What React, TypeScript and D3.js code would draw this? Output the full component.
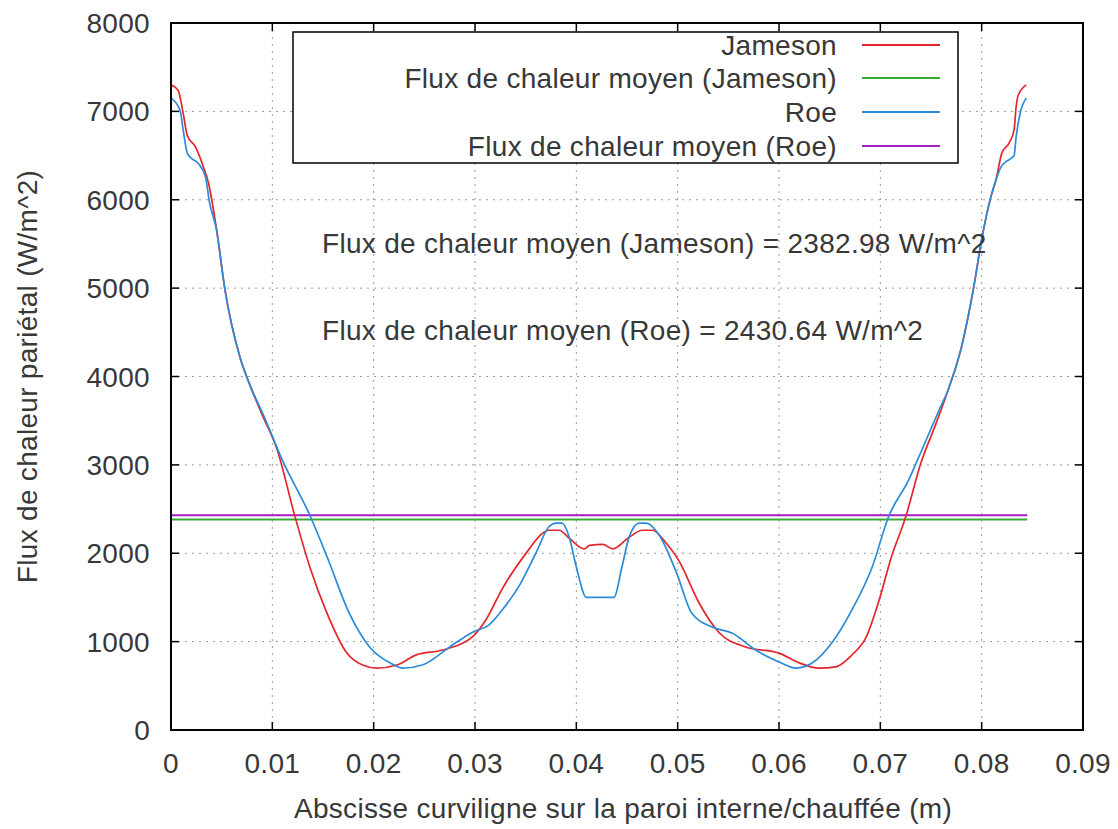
import { line, curveMonotoneX, scaleLinear } from 'd3'

const W = 1118
const H = 829
const M = { left: 171, right: 1083, top: 23, bottom: 730 }

const X_TICKS = [0, 0.01, 0.02, 0.03, 0.04, 0.05, 0.06, 0.07, 0.08, 0.09]
const Y_TICKS = [0, 1000, 2000, 3000, 4000, 5000, 6000, 7000, 8000]

const JAMESON_X = [
  0, 0.0007, 0.0012, 0.0016, 0.0024, 0.0032, 0.0037, 0.0045, 0.0053, 0.0068, 0.0078, 0.0091,
  0.0104, 0.0122, 0.0137, 0.0154, 0.0173, 0.0189, 0.0203, 0.0223, 0.0242, 0.0268, 0.0298,
  0.0311, 0.0327, 0.0351, 0.0367, 0.0373, 0.0383, 0.0393, 0.0408, 0.0413, 0.0426, 0.0436,
  0.0452, 0.0465, 0.0475, 0.0489, 0.0501, 0.0521, 0.0541, 0.0567, 0.06, 0.062, 0.0639,
  0.0656, 0.0672, 0.0686, 0.0698, 0.0711, 0.0725, 0.074, 0.0755, 0.0767, 0.078, 0.0792,
  0.08, 0.0809, 0.0814, 0.082, 0.0827, 0.0832, 0.0834, 0.0836, 0.0844,
]
const JAMESON_Y = [
  7300, 7240, 6980, 6730, 6600, 6370, 6190, 5660, 5000, 4220, 3900, 3540,
  3200, 2430, 1845, 1320, 880, 735, 700, 735, 850, 905, 1060,
  1250, 1600, 2010, 2230, 2260, 2260, 2170, 2050, 2090, 2100, 2050,
  2180, 2260, 2260, 2110, 1920, 1440, 1100, 940, 870, 760, 700,
  715, 850, 1050, 1440, 1960, 2410, 3020, 3470, 3850, 4330, 5000,
  5550, 6030, 6220, 6530, 6640, 6790, 7050, 7180, 7300,
]

const ROE_X = [
  0, 0.0009, 0.0012, 0.0016, 0.002, 0.0027, 0.0034, 0.0038, 0.0045, 0.0053, 0.0068, 0.0078,
  0.0091, 0.011, 0.0137, 0.0154, 0.0176, 0.0196, 0.0216, 0.0229, 0.0248, 0.0275, 0.0298,
  0.0314, 0.0327, 0.0344, 0.036, 0.0373, 0.038, 0.0386, 0.0393, 0.04, 0.041, 0.0437,
  0.0445, 0.0452, 0.0462, 0.0469, 0.0482, 0.0499, 0.0514, 0.0534, 0.0554, 0.0577, 0.06,
  0.0617, 0.0633, 0.0652, 0.0672, 0.0692, 0.0708, 0.0728, 0.0738, 0.0758, 0.0767, 0.078,
  0.0792, 0.08, 0.0809, 0.0814, 0.0819, 0.0824, 0.0832, 0.0834, 0.0838, 0.0844,
]
const ROE_Y = [
  7150, 7010, 6790, 6530, 6470, 6410, 6260, 5970, 5660, 5000, 4220, 3900,
  3570, 3050, 2430, 1960, 1320, 940, 760, 700, 735, 940, 1110,
  1190, 1360, 1640, 2000, 2300, 2340, 2340, 2180, 1845, 1500, 1500,
  1845, 2180, 2340, 2340, 2200, 1775, 1320, 1165, 1095, 905, 770,
  700, 760, 985, 1360, 1845, 2410, 2830, 3090, 3620, 3850, 4330,
  5000, 5550, 6030, 6220, 6370, 6430, 6500, 6710, 6980, 7150,
]

const MEAN_X = [0, 0.0845]
const MEAN_JAMESON = 2382.98
const MEAN_ROE = 2430.64

const SERIES = [
  { label: 'Jameson', color: '#e3262b' },
  { label: 'Flux de chaleur moyen (Jameson)', color: '#3aaa35' },
  { label: 'Roe', color: '#2a8bd8' },
  { label: 'Flux de chaleur moyen (Roe)', color: '#a020c0' },
]

const FONT = '"Liberation Sans", Arial, sans-serif'
const TXT = '#383838'
const FS = 28

export default function App() {
  const x = scaleLinear().domain([0, 0.09]).range([M.left, M.right])
  const y = scaleLinear().domain([0, 8000]).range([M.bottom, M.top])

  const gen = line<[number, number]>()
    .x((d) => x(d[0]))
    .y((d) => y(d[1]))
    .curve(curveMonotoneX)

  const jameson = gen(JAMESON_X.map((v, i) => [v, JAMESON_Y[i]])) ?? ''
  const roe = gen(ROE_X.map((v, i) => [v, ROE_Y[i]])) ?? ''
  const flat = line<[number, number]>()
    .x((d) => x(d[0]))
    .y((d) => y(d[1]))
  const meanJ = flat(MEAN_X.map((v) => [v, MEAN_JAMESON])) ?? ''
  const meanR = flat(MEAN_X.map((v) => [v, MEAN_ROE])) ?? ''

  const tick = 8
  const legendRows = [45, 78, 112, 146]

  return (
    <svg
      width={W}
      height={H}
      style={{ position: 'absolute', left: 0, top: 0, background: '#fff' }}
      fontFamily={FONT}
      letterSpacing={0.3}
    >
      <rect width={W} height={H} fill="#fff" />

      {/* grid */}
      {X_TICKS.slice(1, -1).map((t) => (
        <line key={'gx' + t} x1={x(t)} x2={x(t)} y1={M.top} y2={M.bottom}
          stroke="#999" strokeWidth={1} strokeDasharray="2 5" />
      ))}
      {Y_TICKS.slice(1, -1).map((t) => (
        <line key={'gy' + t} x1={M.left} x2={M.right} y1={y(t)} y2={y(t)}
          stroke="#999" strokeWidth={1} strokeDasharray="2 5" />
      ))}

      {/* ticks, mirrored */}
      {X_TICKS.map((t) => (
        <g key={'tx' + t} stroke="#000" strokeWidth={1.5}>
          <line x1={x(t)} x2={x(t)} y1={M.bottom} y2={M.bottom - tick} />
          <line x1={x(t)} x2={x(t)} y1={M.top} y2={M.top + tick} />
        </g>
      ))}
      {Y_TICKS.map((t) => (
        <g key={'ty' + t} stroke="#000" strokeWidth={1.5}>
          <line x1={M.left} x2={M.left + tick} y1={y(t)} y2={y(t)} />
          <line x1={M.right} x2={M.right - tick} y1={y(t)} y2={y(t)} />
        </g>
      ))}

      {/* tick labels */}
      {X_TICKS.map((t) => (
        <text key={'lx' + t} x={x(t)} y={773} textAnchor="middle" fontSize={FS} fill={TXT}>
          {t === 0 ? '0' : t.toFixed(2)}
        </text>
      ))}
      {Y_TICKS.map((t) => (
        <text key={'ly' + t} x={150} y={y(t) + 10} textAnchor="end" fontSize={FS} fill={TXT}>
          {t}
        </text>
      ))}

      {/* data */}
      <path d={meanJ} fill="none" stroke={SERIES[1].color} strokeWidth={2} />
      <path d={meanR} fill="none" stroke={SERIES[3].color} strokeWidth={2} />
      <path d={jameson} fill="none" stroke={SERIES[0].color} strokeWidth={1.7} />
      <path d={roe} fill="none" stroke={SERIES[2].color} strokeWidth={1.7} />

      {/* border */}
      <rect x={M.left} y={M.top} width={M.right - M.left} height={M.bottom - M.top}
        fill="none" stroke="#000" strokeWidth={2} />

      {/* legend */}
      <rect x={293} y={32} width={665} height={131} fill="#fff" stroke="#000" strokeWidth={1.5} />
      {SERIES.map((s, i) => (
        <g key={s.label}>
          <text x={837} y={legendRows[i] + 10} textAnchor="end" fontSize={FS} fill={TXT}>
            {s.label}
          </text>
          <line x1={862} x2={940} y1={legendRows[i]} y2={legendRows[i]} stroke={s.color} strokeWidth={2} />
        </g>
      ))}

      {/* annotations */}
      <text x={322} y={253} fontSize={FS} fill={TXT}>
        Flux de chaleur moyen (Jameson) = {MEAN_JAMESON.toFixed(2)} W/m^2
      </text>
      <text x={322} y={340} fontSize={FS} fill={TXT}>
        Flux de chaleur moyen (Roe) = {MEAN_ROE.toFixed(2)} W/m^2
      </text>

      {/* axis titles */}
      <text x={623} y={818} textAnchor="middle" fontSize={FS} fill={TXT}>
        Abscisse curviligne sur la paroi interne/chauffée (m)
      </text>
      <text transform={`translate(37, ${(M.top + M.bottom) / 2}) rotate(-90)`}
        textAnchor="middle" fontSize={FS} fill={TXT}>
        Flux de chaleur pariétal (W/m^2)
      </text>
    </svg>
  )
}
